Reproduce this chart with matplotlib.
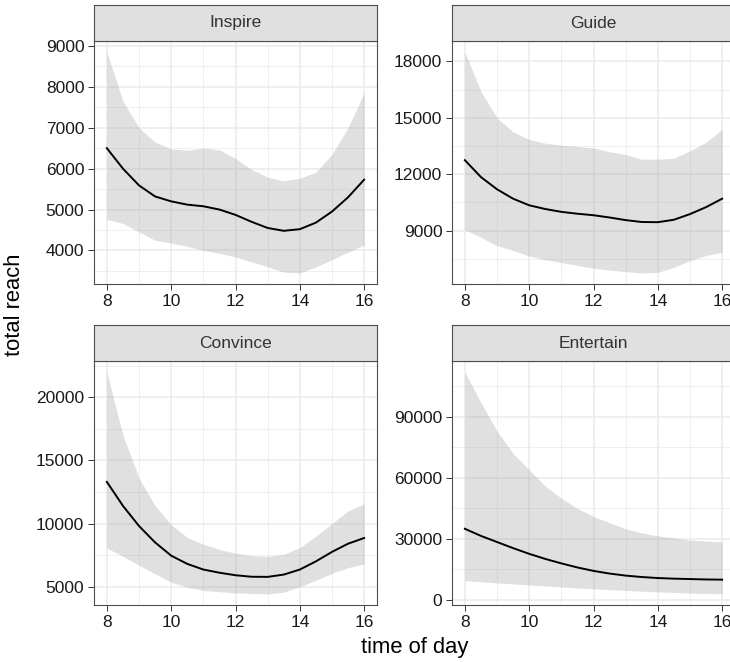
import matplotlib
matplotlib.use("Agg")
import matplotlib.pyplot as plt
from matplotlib.ticker import FixedLocator

plt.rcParams['font.family'] = ['Liberation Sans', 'DejaVu Sans']

hours = [8, 8.5, 9, 9.5, 10, 10.5, 11, 11.5, 12, 12.5, 13, 13.5, 14, 14.5, 15, 15.5, 16]

inspire_fit = [6500, 6000, 5590, 5320, 5200, 5120, 5080, 5000, 4870, 4700, 4550, 4480, 4520, 4680, 4950, 5300, 5730]
inspire_hi = [8850, 7650, 7000, 6650, 6480, 6450, 6500, 6460, 6250, 5980, 5790, 5700, 5765, 5910, 6350, 7000, 7850]
inspire_lo = [4760, 4660, 4450, 4250, 4180, 4100, 4000, 3930, 3840, 3720, 3600, 3470, 3450, 3600, 3770, 3960, 4130]

guide_fit = [12750, 11850, 11200, 10700, 10350, 10150, 10000, 9900, 9820, 9700, 9560, 9460, 9450, 9580, 9880, 10250, 10700]
guide_hi = [18500, 16400, 15000, 14250, 13850, 13650, 13550, 13480, 13400, 13200, 13050, 12800, 12800, 12850, 13250, 13700, 14400]
guide_lo = [9050, 8650, 8200, 7950, 7650, 7450, 7300, 7150, 7000, 6900, 6820, 6750, 6780, 7050, 7400, 7680, 7850]

convince_fit = [13300, 11400, 9800, 8500, 7450, 6800, 6350, 6100, 5900, 5780, 5770, 5950, 6350, 7000, 7750, 8400, 8850]
convince_hi = [22000, 17000, 13600, 11400, 9900, 8900, 8350, 7950, 7650, 7450, 7400, 7550, 8100, 9000, 10000, 11000, 11550]
convince_lo = [8050, 7400, 6700, 6000, 5350, 4950, 4700, 4600, 4500, 4450, 4420, 4550, 5000, 5500, 6050, 6500, 6800]

entertain_fit = [35000, 31500, 28500, 25500, 22700, 20200, 18000, 16000, 14300, 13000, 12000, 11300, 10800, 10500, 10300, 10100, 10000]
entertain_hi = [112000, 97000, 83000, 72000, 64000, 56000, 50000, 45000, 41000, 38000, 35000, 33000, 31500, 30500, 29500, 29000, 28500]
entertain_lo = [9500, 9000, 8400, 7900, 7400, 6900, 6400, 5900, 5500, 5100, 4700, 4300, 4000, 3700, 3400, 3200, 3000]

panel_names = ["Inspire", "Guide", "Convince", "Entertain"]
x_ticks = [8, 10, 12, 14, 16]
y_ticks = {
    "Inspire": [4000, 5000, 6000, 7000, 8000, 9000],
    "Guide": [9000, 12000, 15000, 18000],
    "Convince": [5000, 10000, 15000, 20000],
    "Entertain": [0, 30000, 60000, 90000],
}
series = {
    "Inspire": (inspire_fit, inspire_lo, inspire_hi),
    "Guide": (guide_fit, guide_lo, guide_hi),
    "Convince": (convince_fit, convince_lo, convince_hi),
    "Entertain": (entertain_fit, entertain_lo, entertain_hi),
}

W, H = 730, 662
fig = plt.figure(figsize=(W / 100, H / 100), dpi=100)

cols = [(94, 377), (452, 735)]
rows = [(41, 284, 5), (361, 605, 325)]

def fr(x0, x1, y0, y1):
    return [x0 / W, 1 - y1 / H, (x1 - x0) / W, (y1 - y0) / H]

border = '#4D4D4D'
grid_c = '#EBEBEB'
txt_c = '#1A1A1A'
tick_c = '#333333'

for i, name in enumerate(panel_names):
    r, c = divmod(i, 2)
    x0, x1 = cols[c]
    y0, y1, s0 = rows[r]
    ax = fig.add_axes(fr(x0, x1, y0, y1))
    fit, lo, hi = series[name]
    ax.fill_between(hours, lo, hi, color='#999999', alpha=0.3, linewidth=0, zorder=2)
    ax.plot(hours, fit, color='black', linewidth=1.4, zorder=3)

    ax.set_xlim(7.6, 16.4)
    yt = y_ticks[name]
    allv = lo + hi
    rng = max(allv) - min(allv)
    ax.set_ylim(min(allv) - 0.05 * rng, max(allv) + 0.05 * rng)
    ax.set_xticks(x_ticks)
    ax.set_yticks(yt)
    step = yt[1] - yt[0]
    ax.xaxis.set_minor_locator(FixedLocator([9, 11, 13, 15]))
    ax.yaxis.set_minor_locator(FixedLocator([v + step / 2 for v in [yt[0] - step] + yt]))
    ax.set_axisbelow(True)
    ax.grid(which='major', color=grid_c, linewidth=1.1, zorder=0)
    ax.grid(which='minor', color=grid_c, linewidth=0.55, zorder=0)
    ax.tick_params(which='minor', length=0)
    ax.tick_params(which='major', length=4, width=0.7, color=tick_c, labelsize=12.5,
                   labelcolor=txt_c, pad=3)
    for sp in ax.spines.values():
        sp.set_color(border)
        sp.set_linewidth(0.8)
    ax.set_facecolor('white')

    sax = fig.add_axes(fr(x0, x1, s0, y0))
    sax.set_facecolor('#E0E0E0')
    sax.set_xticks([])
    sax.set_yticks([])
    for sp in sax.spines.values():
        sp.set_color(border)
        sp.set_linewidth(0.8)
    sax.text(0.5, 0.5, name, transform=sax.transAxes, ha='center', va='center',
             fontsize=12.5, color='#333333')

fig.text(415 / W, 1 - 647 / H, "time of day", ha='center', va='center', fontsize=15.8, color='black')
fig.text(15 / W, 1 - 305 / H, "total reach", ha='center', va='center', rotation=90,
         fontsize=15.8, color='black')

fig.savefig("out.png", dpi=100, facecolor='white')
